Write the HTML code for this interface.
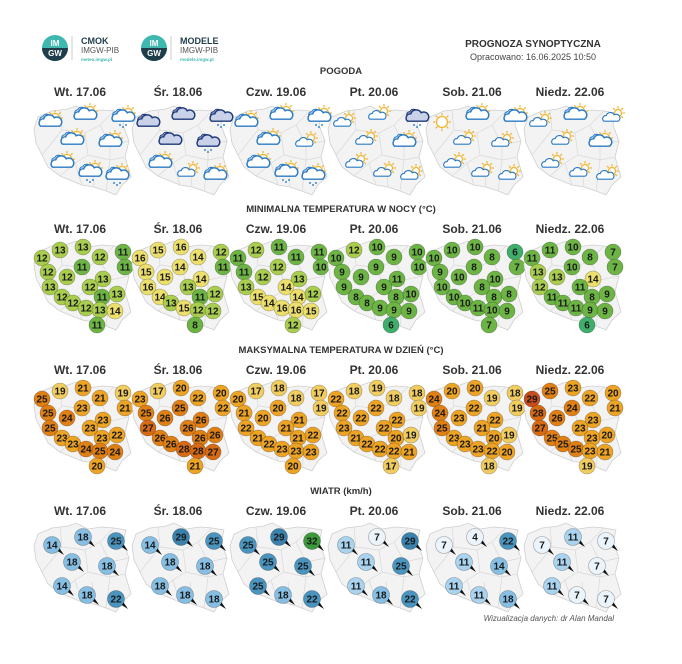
<!DOCTYPE html>
<html><head><meta charset="utf-8"><style>
html,body{margin:0;padding:0;background:#fff;}
svg{display:block;font-family:"Liberation Sans",sans-serif;}
</style></head><body>
<svg id="s" width="682" height="664" viewBox="0 0 682 664" xmlns="http://www.w3.org/2000/svg"></svg>
<script>
var s=document.getElementById('s');var h='';
function T(x,y,t,sz,w,col,anchor,extra){h+='<text x="'+x+'" y="'+y+'" font-size="'+sz+'" font-weight="'+(w||'normal')+'" fill="'+(col||'#333')+'" text-anchor="'+(anchor||'middle')+'" '+(extra||'')+'>'+t+'</text>';}
function logo(cx,cy){h+='<circle cx="'+cx+'" cy="'+cy+'" r="13" fill="#3fb8b0"/><path d="M'+(cx-13)+' '+cy+' A13 13 0 0 0 '+(cx+13)+' '+cy+' Z" fill="#1f3d4a"/>';
T(cx,cy-2,'IM',8,'bold','#fff');T(cx,cy+8,'GW',8,'bold','#fff');
h+='<line x1="'+(cx+17)+'" y1="'+(cy-12)+'" x2="'+(cx+17)+'" y2="'+(cy+12)+'" stroke="#ccc"/>';}
logo(55,48);logo(154,48);
T(81,44,'CMOK',9,'bold','#1f3d4a','start');T(81,53,'IMGW-PIB',8,'normal','#555','start');T(81,61,'meteo.imgw.pl',4.5,'bold','#3fb8b0','start');
T(180,44,'MODELE',9,'bold','#1f3d4a','start');T(180,53,'IMGW-PIB',8,'normal','#555','start');T(180,61,'modele.imgw.pl',4.5,'bold','#3fb8b0','start');
T(533,47,'PROGNOZA SYNOPTYCZNA',10,'bold','#333');T(533,60,'Opracowano: 16.06.2025 10:50',9,'normal','#444');
var days=['Wt. 17.06','Śr. 18.06','Czw. 19.06','Pt. 20.06','Sob. 21.06','Niedz. 22.06'];
var X0=[30,128,226,324,422,520];
var poly=[[8,12],[22,6],[38,4],[46,1],[58,7],[72,5],[84,6],[96,8],[93,20],[99,36],[95,52],[101,72],[92,80],[86,90],[76,86],[64,82],[52,80],[42,76],[30,71],[18,62],[12,50],[6,38],[4,24]];
function map(x0,y0){var p=poly.map(function(q){return (x0+q[0])+','+(y0+q[1])}).join(' ');
h+='<polygon points="'+p+'" fill="#f3f3f3" stroke="#cfcfcf" stroke-width="0.8"/>';
var L=[[[30,5],[32,25],[20,40],[12,50]],[[32,25],[55,28],[70,20],[84,6]],[[55,28],[58,50],[45,58],[30,71]],[[70,20],[80,40],[99,36]],[[58,50],[80,55],[95,52]],[[80,40],[80,55],[76,86]],[[45,58],[52,80]],[[62,60],[64,82]]];
L.forEach(function(l){h+='<polyline points="'+l.map(function(q){return (x0+q[0])+','+(y0+q[1])}).join(' ')+'" fill="none" stroke="#d8d8d8" stroke-width="0.7"/>';});}
function titles(y1,y2,t){T(341,y1,t,9.5,'bold','#333');days.forEach(function(d,i){T(X0[i]+50,y2,d,12,'bold','#333');});}
titles(74,96,'POGODA');
var wp=[[20,17],[55,10],[93,12],[42,35],[80,37],[32,58],[60,67],[87,70]];
var wt=[['cs','cs','cr','cs','cs','cs','csr','cr'],['dc','dc','dcr','dc','dcr','cs','ss','cs'],['cs','cs','cr','cs','ss','cs','cr','cr'],['ss','ss','dcr','ss','cs','ss','ss','ss'],['sun','cs','cs','ss','ss','ss','ss','ss'],['ss','cs','ss','ss','cs','ss','ss','ss']];
function cloud(cx,cy,sc,fill,st){h+='<g transform="translate('+cx+','+cy+') scale('+sc+')"><path d="M-9 4 A4 4 0 0 1 -6 -3 A5.5 5.5 0 0 1 4 -4 A4.5 4.5 0 0 1 9 4 Z" fill="'+fill+'" stroke="'+st+'" stroke-width="1.4"/></g>';}
function sun(cx,cy,r){for(var a=0;a<8;a++){var an=a*Math.PI/4;h+='<line x1="'+(cx+Math.cos(an)*(r+1))+'" y1="'+(cy+Math.sin(an)*(r+1))+'" x2="'+(cx+Math.cos(an)*(r+3.5))+'" y2="'+(cy+Math.sin(an)*(r+3.5))+'" stroke="#f2b632" stroke-width="1.2"/>';}h+='<circle cx="'+cx+'" cy="'+cy+'" r="'+r+'" fill="#fff" stroke="#f2b632" stroke-width="1.3"/>';}
X0.forEach(function(x0,i){map(x0,105);wp.forEach(function(p,j){var t=wt[i][j],x=x0+p[0],y=105+p[1];
 if(t=='sun'){sun(x,y,5.5);return;}
 if(t!='dc'&&t!='dcr')sun(x+5,y-4,t=='ss'?3.5:4.5);
 if(t=='ss'){cloud(x-2,y+1,0.8,'#fff','#2b7bc4');}
 else if(t=='dc'||t=='dcr'){cloud(x-3,y-3,0.7,'#c9d2e8','#1e3a7a');cloud(x,y,1.05,'#c9d2e8','#1e3a7a');}
 else{cloud(x-3,y-3,0.7,'#fff','#2b7bc4');cloud(x,y,1.05,'#fff','#2b7bc4');}
 if(t=='cr'||t=='dcr'||t=='csr'){for(var k=0;k<3;k++)h+='<circle cx="'+(x-3+k*3)+'" cy="'+(y+8+(k%2)*2)+'" r="1" fill="#3a8ad0"/>';}
});});
var tp=[[30,12],[53,9],[70,19],[93,14],[12,20],[52,29],[95,29],[18,34],[37,39],[73,41],[20,49],[60,49],[32,59],[72,59],[87,56],[43,65],[56,70],[70,72],[85,73],[67,87]];
var mn=[[13,13,12,11,12,11,11,12,12,13,13,12,12,11,13,12,12,13,14,11],[15,16,14,12,16,14,11,15,15,14,16,13,14,11,12,13,15,12,12,8],[12,11,11,11,11,12,10,11,12,13,13,14,15,14,12,14,16,16,15,12],[12,10,9,10,10,9,10,9,9,11,9,9,8,8,10,8,9,9,9,6],[10,10,8,6,10,8,7,9,10,10,10,8,10,8,8,10,11,10,9,7],[11,10,8,7,11,10,7,13,13,14,12,11,11,8,9,11,11,9,9,6]];
var mx=[[19,21,21,19,25,23,21,25,24,23,25,23,23,23,22,23,24,25,24,20],[17,20,22,20,23,25,22,25,26,26,27,26,26,26,26,26,28,28,27,21],[17,18,18,17,20,20,19,21,20,21,22,21,21,21,22,22,23,23,23,20],[18,19,18,18,22,22,19,22,22,22,23,22,21,20,19,22,22,22,21,17],[20,20,19,18,24,22,19,24,23,22,25,21,23,20,19,23,23,22,20,18],[25,23,22,20,29,24,21,28,26,23,27,23,25,23,20,25,25,23,21,19]];
function cmin(v){return v<=6?'#3fae6a':v<=11?'#6cb443':v<=13?'#a9cd4c':'#ecdf6c';}
function cmax(v){return v<=19?'#f1cc5e':v<=23?'#eda324':v<=26?'#e07f14':v<=28?'#d76a12':'#c84c1c';}
function circ(x,y,v,f,r,tc){h+='<circle cx="'+x+'" cy="'+y+'" r="'+(r||8)+'" fill="'+f+'" stroke="rgba(0,0,0,0.35)" stroke-width="0.6"/>';T(x,y+3.6,v,10,'bold',tc||'#1a1a1a');}
titles(212,233,'MINIMALNA TEMPERATURA W NOCY (°C)');
X0.forEach(function(x0,i){map(x0,240);tp.forEach(function(p,j){circ(x0+p[0],238+p[1],mn[i][j],cmin(mn[i][j]));});});
titles(353,374,'MAKSYMALNA TEMPERATURA W DZIEŃ (°C)');
X0.forEach(function(x0,i){map(x0,381);tp.forEach(function(p,j){circ(x0+p[0],379+p[1],mx[i][j],cmax(mx[i][j]));});});
titles(494,515,'WIATR (km/h)');
var wpp=[[22,25],[53,17],[86,21],[42,42],[77,46],[32,66],[57,75],[86,79]];
var wv=[[14,18,25,18,18,14,18,22],[14,29,25,18,18,18,18,18],[25,29,32,25,25,25,18,22],[11,7,29,11,25,11,18,22],[7,4,22,11,14,11,11,18],[7,11,7,11,7,11,7,7]];
function cw(v){return v<=7?'#eaf4fa':v<=11?'#a9d3ee':v<=18?'#86bfe3':v<=25?'#4a95c0':v<=29?'#3a82ad':'#3c9a3c';}
X0.forEach(function(x0,i){map(x0,522);wpp.forEach(function(p,j){var x=x0+p[0],y=520+p[1];
 h+='<polygon points="'+(x+4)+','+(y+5)+' '+(x+12)+','+(y+10)+' '+(x+6)+','+(y+1)+'" fill="#111"/>';
 circ(x,y,wv[i][j],cw(wv[i][j]),8.5);});});
T(614,621,'Wizualizacja danych: dr Alan Mandal',8,'normal','#555','end','font-style="italic"');
s.innerHTML=h;
</script>
</body></html>
